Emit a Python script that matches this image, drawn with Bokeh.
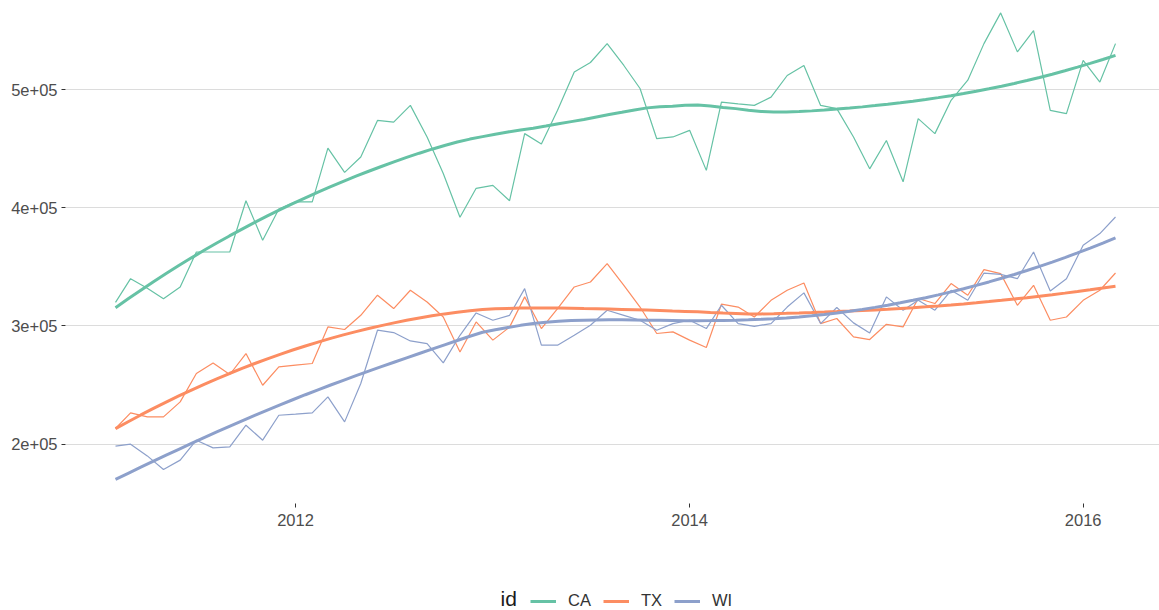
import numpy as np
import pandas as pd
from bokeh.plotting import figure
from bokeh.layouts import column
from bokeh.models import (Range1d, FixedTicker, DatetimeTickFormatter, Legend,
                          LegendItem, ColumnDataSource, Label)
from bokeh.embed import file_html
from bokeh.resources import INLINE

# ---------------- data ----------------
months = pd.date_range("2011-02-01", "2016-03-01", freq="MS")
series_ids = ["CA", "TX", "WI"]
colors = ["#66C2A5", "#FC8D62", "#8DA0CB"]

ca = [320000, 340000, 332000, 323000, 333000, 362600, 362600, 362600, 406000, 372500,
      399000, 405000, 405000, 450600, 430000, 443000, 474000, 472600, 486700, 460000,
      429000, 392000, 416500, 419000, 406000, 462800, 454000, 482500, 515000, 523000,
      539000, 520500, 501000, 458500, 460000, 465600, 431700, 489500, 488000, 486700,
      493700, 512000, 520500, 486700, 484000, 460000, 433000, 457000, 422000, 475500,
      462800, 491000, 508000, 539000, 565000, 532000, 550000, 482500, 479700, 524800,
      506500, 539000]
tx = [213200, 226400, 223000, 223000, 235700, 259700, 268700, 258900, 276600, 249800,
      265300, 266800, 268200, 299200, 297000, 309000, 326000, 314700, 330200, 320300,
      307600, 278000, 303400, 288000, 299000, 324600, 297800, 314700, 333000, 337200,
      352800, 334400, 316000, 293600, 295000, 288000, 281700, 318400, 316000, 307600,
      321700, 330200, 336400, 302000, 306300, 290700, 288500, 301400, 299200, 323200,
      319000, 335900, 326000, 347700, 344300, 317500, 334400, 304800, 307600, 321700,
      330200, 344800]
wi = [198200, 199900, 190000, 178500, 186400, 203300, 196800, 197700, 216000, 203300,
      224400, 225300, 226400, 240000, 218800, 251300, 296400, 294400, 287300, 285100,
      268700, 292100, 311000, 304800, 309000, 331600, 283700, 283700, 292100, 300600,
      313300, 309000, 304800, 296400, 302000, 304800, 297800, 317500, 302000, 299700,
      302000, 316000, 328000, 302000, 315600, 302600, 294100, 324600, 313300, 321700,
      313300, 330200, 321700, 344800, 343700, 340000, 362600, 329600, 340000, 368300,
      378200, 392200]
values = [ca, tx, wi]

x_tick_dates = ["2012-01-01", "2014-01-01", "2016-01-01"]
y_tick_values = [200000, 300000, 400000, 500000]
y_tick_labels = ["2e+05", "3e+05", "4e+05", "5e+05"]
legend_title = "id"


# ---------------- loess (as geom_smooth) ----------------
def loess(x, y, xs, span=0.75):
    x = np.asarray(x, float)
    y = np.asarray(y, float)
    n = len(x)
    q = int(np.floor(n * span))
    out = []
    for x0 in xs:
        d = np.abs(x - x0)
        h = np.sort(d)[q - 1]
        w = np.clip(1 - (d / h) ** 3, 0, None) ** 3
        X = np.vstack([np.ones(n), x - x0, (x - x0) ** 2]).T
        sw = np.sqrt(w)
        beta = np.linalg.lstsq(X * sw[:, None], y * sw, rcond=None)[0]
        out.append(beta[0])
    return np.array(out)


ms = (months.values.astype("datetime64[ms]").astype(np.int64)).astype(float)
days = (ms - ms[0]) / 86400000.0
xs_days = np.linspace(days.min(), days.max(), 80)
xs_ms = ms[0] + xs_days * 86400000.0

# ---------------- main figure ----------------
W = 1159
H_MAIN, H_LEG = 570, 40
LEFT = 65
FRAME_BOTTOM = 503
dr = ms[-1] - ms[0]
x_start = ms[0] - 0.05 * dr
x_end = x_start + 1.1 * dr * ((W - LEFT) / 1100.0)

p = figure(width=W, height=H_MAIN, x_axis_type="datetime",
           output_backend="svg", toolbar_location=None,
           x_range=Range1d(x_start, x_end), y_range=Range1d(149700, 575500),
           min_border_left=LEFT, min_border_right=0, min_border_top=0,
           min_border_bottom=H_MAIN - FRAME_BOTTOM)
p.outline_line_color = None
p.background_fill_color = "white"
p.border_fill_color = "white"
p.xgrid.grid_line_color = None
p.ygrid.grid_line_color = "#DCDCDC"
p.ygrid.grid_line_width = 1

FONT = "Liberation Sans"
for ax in (p.xaxis[0], p.yaxis[0]):
    ax.axis_line_color = None
    ax.major_tick_in = 0
    ax.major_tick_out = 4
    ax.major_tick_line_color = "#333333"
    ax.minor_tick_line_color = None
    ax.major_label_text_font = FONT
    ax.major_label_text_font_size = "16.5px"
    ax.major_label_text_color = "#4D4D4D"

p.yaxis[0].ticker = FixedTicker(ticks=y_tick_values)
p.yaxis[0].major_label_overrides = {v: l for v, l in zip(y_tick_values, y_tick_labels)}
p.yaxis[0].major_label_standoff = 4

x_ticks = [float(pd.Timestamp(d).value // 10**6) for d in x_tick_dates]
xa = p.xaxis[0]
xa.ticker = FixedTicker(ticks=x_ticks)
xa.formatter = DatetimeTickFormatter(years="%Y", months="%Y", days="%Y",
                                     hours="%Y", minutes="%Y", seconds="%Y",
                                     milliseconds="%Y", microseconds="%Y")
xa.major_label_standoff = 6

for sid, col, vals in zip(series_ids, colors, values):
    src = ColumnDataSource(dict(x=ms, y=vals))
    p.line("x", "y", source=src, line_color=col, line_width=1.2)
for sid, col, vals in zip(series_ids, colors, values):
    sm = loess(days, vals, xs_days)
    src = ColumnDataSource(dict(x=xs_ms, y=sm))
    p.line("x", "y", source=src, line_color=col, line_width=3)

# ---------------- legend strip (its frame is aligned with the main frame) ----------------
pl = figure(width=W, height=H_LEG, output_backend="svg", toolbar_location=None,
            x_range=Range1d(LEFT, W), y_range=Range1d(0, H_LEG),
            x_axis_location=None, y_axis_location=None,
            min_border_left=LEFT, min_border_right=0, min_border_top=0,
            min_border_bottom=0)
pl.outline_line_color = None
pl.grid.grid_line_color = None
pl.background_fill_color = "white"
pl.border_fill_color = "white"

# key renderers: off-screen stubs that only supply the legend key styling
key_renderers = [pl.line(x=[-20, -10], y=[-20, -20], line_color=col, line_width=3)
                 for col in colors]
items = [LegendItem(label=sid, renderers=[r]) for sid, r in zip(series_ids, key_renderers)]
legend = Legend(items=items, orientation="horizontal", location=(530 - LEFT, 0),
                label_text_font=FONT, label_text_font_size="16.5px",
                label_text_color="#333333", glyph_width=26, glyph_height=18,
                label_standoff=12, spacing=12, padding=0, margin=0,
                border_line_color=None, background_fill_alpha=0)
pl.add_layout(legend)
pl.add_layout(Label(x=500, y=12, text=legend_title, text_font=FONT,
                    text_font_size="21px", text_color="#1A1A1A",
                    text_baseline="middle", text_align="left"))

layout = column(p, pl, spacing=0)
open("out.html", "w").write(file_html(layout, INLINE))
